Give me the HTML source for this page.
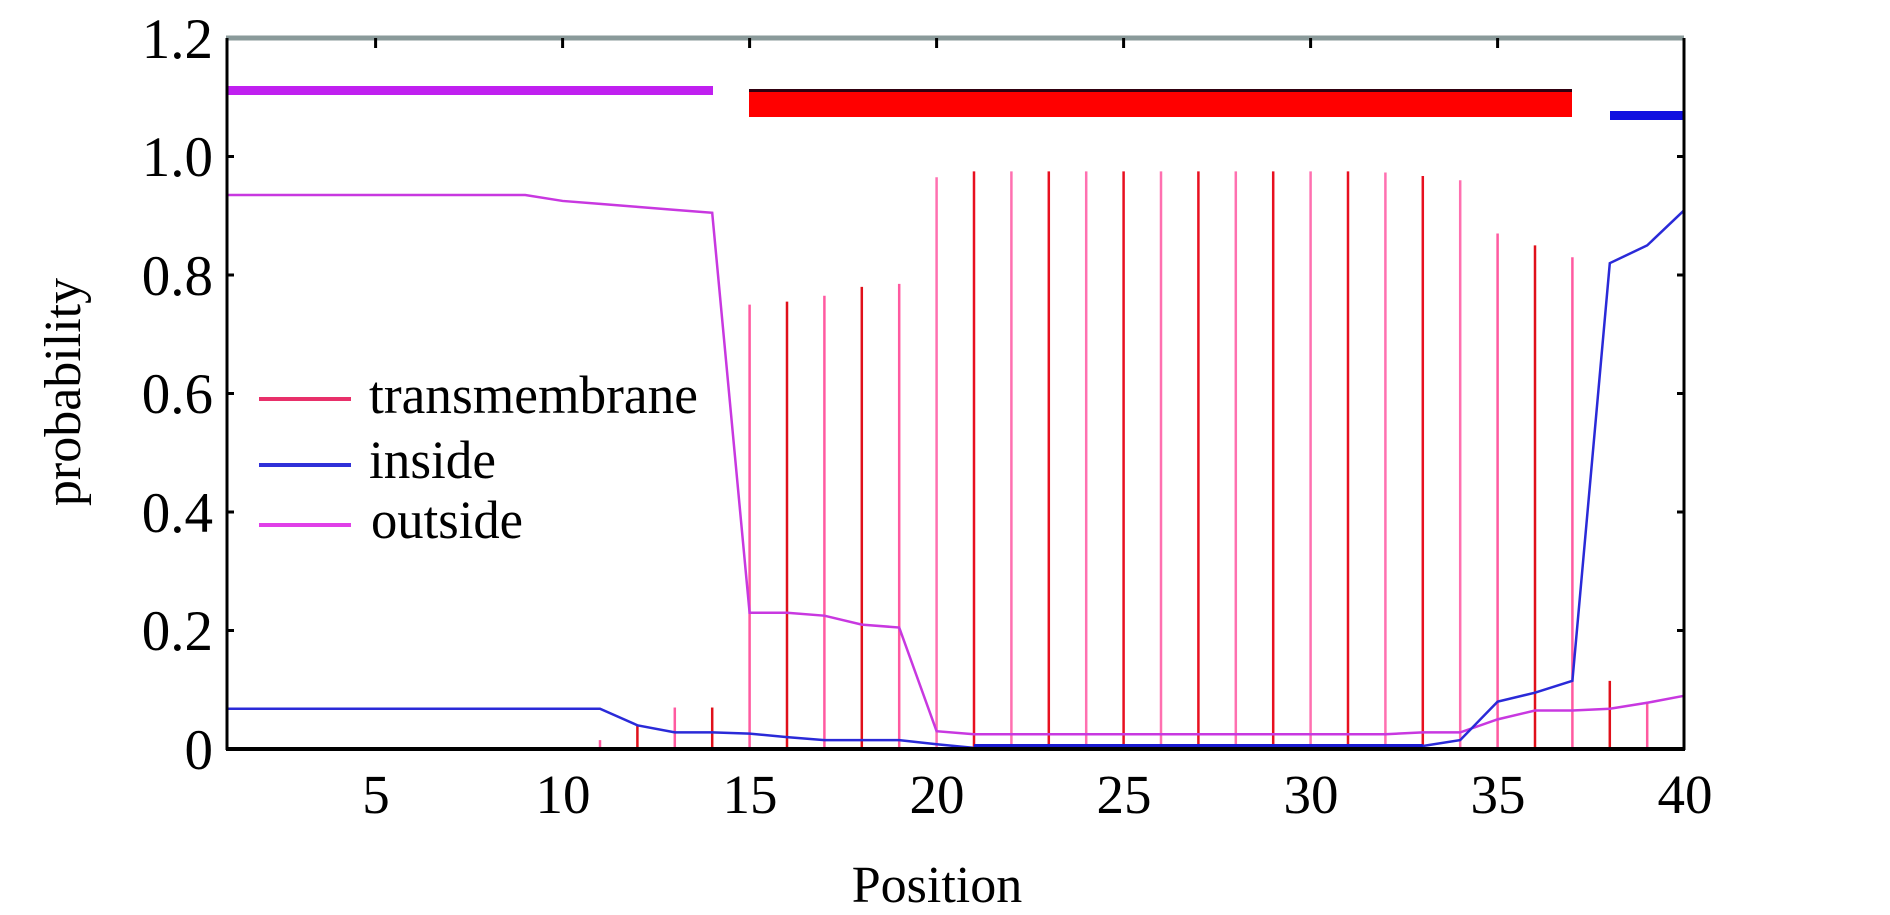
<!DOCTYPE html>
<html><head><meta charset="utf-8"><style>
html,body{margin:0;padding:0;background:#fff;width:1890px;height:915px;overflow:hidden}
svg{display:block}
text{font-family:"Liberation Serif",serif;fill:#000}
</style></head><body>
<svg id="s" width="1890" height="915" viewBox="0 0 1890 915">
<g id="data"></g>
<rect x="228" y="86" width="485" height="9" fill="#c020f0"/>
<rect x="749" y="89" width="823" height="28" fill="#ff0000"/>
<rect x="749" y="89" width="823" height="3" fill="#300010"/>
<rect x="1610" y="111" width="74" height="9" fill="#1010e0"/>
<line x1="226" y1="38" x2="1684" y2="38" stroke="#8a9a9a" stroke-width="5"/>
<line x1="227" y1="38" x2="227" y2="750" stroke="#000" stroke-width="3"/>
<line x1="1684" y1="38" x2="1684" y2="750" stroke="#000" stroke-width="3"/>
<line x1="226" y1="749" x2="1685" y2="749" stroke="#000" stroke-width="4"/>
<g id="ticks" stroke="#000" stroke-width="3"></g>
<g font-size="57" text-anchor="end">
<text x="213" y="58">1.2</text>
<text x="213" y="176">1.0</text>
<text x="213" y="295">0.8</text>
<text x="213" y="413">0.6</text>
<text x="213" y="532">0.4</text>
<text x="213" y="650">0.2</text>
<text x="213" y="769">0</text>
</g>
<g font-size="55" text-anchor="middle">
<text x="376" y="813">5</text>
<text x="563" y="813">10</text>
<text x="750" y="813">15</text>
<text x="937" y="813">20</text>
<text x="1124" y="813">25</text>
<text x="1311" y="813">30</text>
<text x="1498" y="813">35</text>
<text x="1685" y="813">40</text>
</g>
<text x="937" y="902" font-size="52" text-anchor="middle">Position</text>
<text transform="translate(80,392) rotate(-90)" font-size="52" text-anchor="middle">probability</text>
<line x1="259" y1="399" x2="351" y2="399" stroke="#e8306a" stroke-width="4"/>
<line x1="259" y1="465" x2="351" y2="465" stroke="#3030d8" stroke-width="4"/>
<line x1="259" y1="525" x2="351" y2="525" stroke="#e040e8" stroke-width="4"/>
<g font-size="54">
<text x="369" y="413" textLength="329" lengthAdjust="spacingAndGlyphs">transmembrane</text>
<text x="369" y="478" textLength="127" lengthAdjust="spacingAndGlyphs">inside</text>
<text x="371" y="538" textLength="152" lengthAdjust="spacingAndGlyphs">outside</text>
</g>
</svg>
<script>
var X=function(p){return 226+(p-1)*37.4}, Y=function(v){return 749-v*592.5};
var tm={11:.015,12:.04,13:.07,14:.07,15:.75,16:.755,17:.765,18:.78,19:.785,20:.965,21:.975,22:.975,23:.975,24:.975,25:.975,26:.975,27:.975,28:.975,29:.975,30:.975,31:.975,32:.973,33:.967,34:.96,35:.87,36:.85,37:.83,38:.115,39:.08};
var out=[.935,.935,.935,.935,.935,.935,.935,.935,.935,.925,.92,.915,.91,.905,.23,.23,.225,.21,.205,.03,.025,.025,.025,.025,.025,.025,.025,.025,.025,.025,.025,.025,.028,.028,.05,.065,.065,.068,.078,.09];
var ins=[.068,.068,.068,.068,.068,.068,.068,.068,.068,.068,.068,.04,.028,.028,.026,.02,.015,.015,.015,.008,.002,.002,.002,.002,.002,.002,.002,.002,.002,.002,.002,.002,.005,.015,.08,.095,.115,.82,.85,.91];
var h='';
for(var p in tm){var c=(p%2)?'#ff5aa0':'#e0101a';if(p>=20&&p<=34)c=(p%2)?'#e81020':'#ff70b0';
h+='<line x1="'+X(+p)+'" y1="'+Y(tm[p])+'" x2="'+X(+p)+'" y2="749" stroke="'+c+'" stroke-width="2.5"/>';}
function pl(a,c,w){var s='';a.forEach(function(v,i){s+=X(i+1)+','+Y(v)+' '});return '<polyline points="'+s+'" fill="none" stroke="'+c+'" stroke-width="'+w+'"/>';}
h+=pl(out,'#c838e0',2.5)+pl(ins,'#2a2ad8',2.5);
h+='<line x1="'+X(21)+'" y1="746" x2="'+X(33)+'" y2="746" stroke="#1a1ad0" stroke-width="4"/>';
document.getElementById('data').innerHTML=h;
var t='';[5,10,15,20,25,30,35].forEach(function(p){t+='<line x1="'+X(p)+'" y1="38" x2="'+X(p)+'" y2="48"/>'});
[0.2,0.4,0.6,0.8,1.0].forEach(function(v){t+='<line x1="227" y1="'+Y(v)+'" x2="234" y2="'+Y(v)+'"/><line x1="1677" y1="'+Y(v)+'" x2="1684" y2="'+Y(v)+'"/>'});
document.getElementById('ticks').innerHTML=t;
</script>
</body></html>
